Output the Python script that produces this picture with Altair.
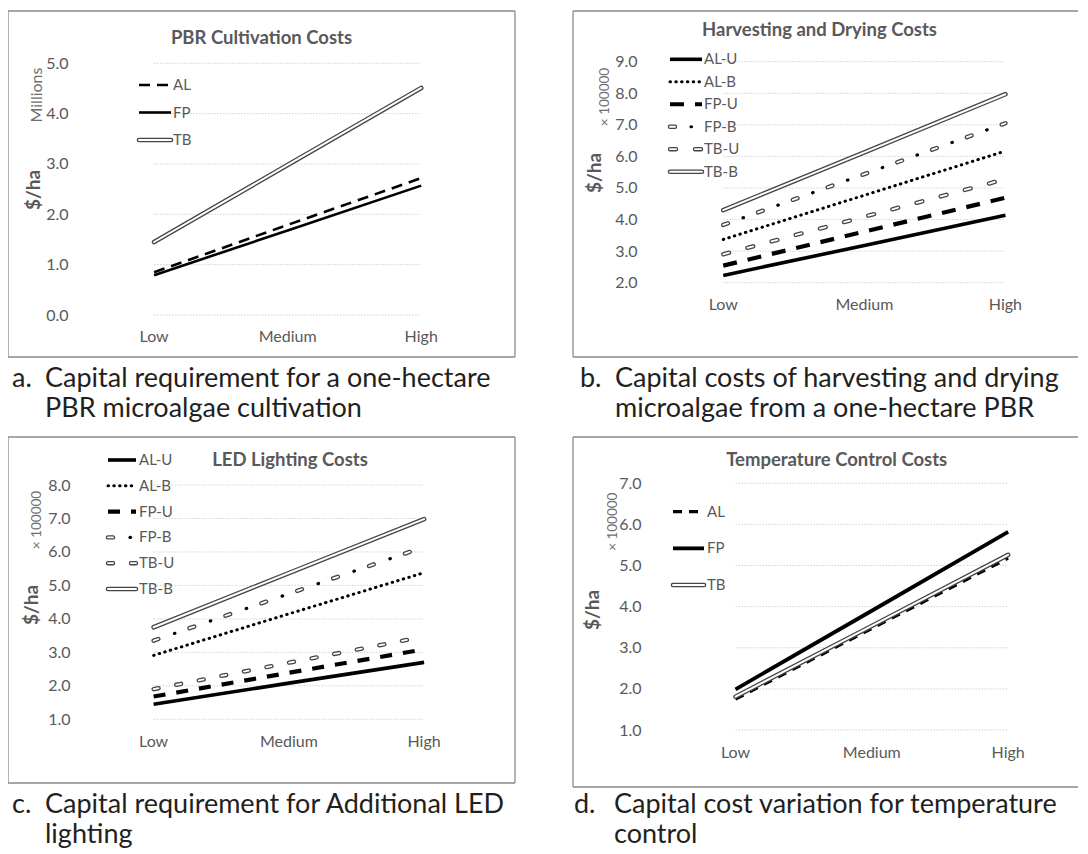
import altair as alt
import pandas as pd

# ---------------- data ----------------
levels = ["Low", "Medium", "High"]

a_title = "PBR Cultivation Costs"
a_series = ["AL", "FP", "TB"]
a_AL = [0.85, 1.79, 2.72]
a_FP = [0.79, 1.68, 2.57]
a_TB = [1.45, 2.98, 4.51]
a_ticks = [0, 1, 2, 3, 4, 5]
a_unit = "Millions"

b_title = "Harvesting and Drying Costs"
b_series = ["AL-U", "AL-B", "FP-U", "FP-B", "TB-U", "TB-B"]
b_AL_U = [2.23, 3.18, 4.14]
b_AL_B = [3.37, 4.77, 6.17]
b_FP_U = [2.54, 3.62, 4.69]
b_FP_B = [3.83, 5.44, 7.05]
b_TB_U = [2.90, 4.09, 5.28]
b_TB_B = [4.30, 6.13, 7.97]
b_ticks = [2, 3, 4, 5, 6, 7, 8, 9]
b_unit = "× 100000"

c_title = "LED Lighting Costs"
c_series = ["AL-U", "AL-B", "FP-U", "FP-B", "TB-U", "TB-B"]
c_AL_U = [1.45, 2.08, 2.70]
c_AL_B = [2.91, 4.15, 5.38]
c_FP_U = [1.68, 2.39, 3.09]
c_FP_B = [3.35, 4.75, 6.15]
c_TB_U = [1.90, 2.69, 3.47]
c_TB_B = [3.75, 5.37, 6.98]
c_ticks = [1, 2, 3, 4, 5, 6, 7, 8]
c_unit = "× 100000"

d_title = "Temperature Control Costs"
d_series = ["AL", "FP", "TB"]
d_AL = [1.75, 3.47, 5.18]
d_FP = [1.99, 3.90, 5.82]
d_TB = [1.81, 3.53, 5.26]
d_ticks = [1, 2, 3, 4, 5, 6, 7]
d_unit = "× 100000"

y_label = "$/ha"

cap_a_tag = "a."
cap_a = ["Capital requirement for a one-hectare", "PBR microalgae cultivation"]
cap_b_tag = "b."
cap_b = ["Capital costs of harvesting and drying", "microalgae from a one-hectare PBR"]
cap_c_tag = "c."
cap_c = ["Capital requirement for Additional LED", "lighting"]
cap_d_tag = "d."
cap_d = ["Capital cost variation for temperature", "control"]

# ---------------- styles ----------------
FONT = "Lato"
GREY = "#595959"
UNIT_GREY = "#6e6e6e"
INK = "#000000"
RIM = "#454545"
BOX = "#8a8a8a"
CAP = "#231f20"
AXIS_FS = 16


def solid(w):
    return [dict(color=INK, strokeWidth=w)]


def dashed(w, pat):
    return [dict(color=INK, strokeWidth=w, strokeDash=pat)]


def dotted(w, pat):
    return [dict(color=INK, strokeWidth=w, strokeDash=pat, strokeCap="round")]


def double(wo=4.6, wi=2.0):
    return [dict(color=RIM, strokeWidth=wo, strokeCap="round"),
            dict(color="#ffffff", strokeWidth=wi, strokeCap="round")]


def double_dash(pat, wo=4.4, wi=1.8):
    return [dict(color=RIM, strokeWidth=wo, strokeDash=pat, strokeCap="round"),
            dict(color="#ffffff", strokeWidth=wi, strokeDash=pat, strokeCap="round")]


def double_dashdot(dash, period, dotpos):
    return [dict(color=RIM, strokeWidth=4.4, strokeDash=[dash, period - dash], strokeCap="round"),
            dict(color="#ffffff", strokeWidth=1.8, strokeDash=[dash, period - dash], strokeCap="round"),
            dict(color=INK, strokeWidth=3.2, strokeDash=[0.5, period - 0.5],
                 strokeDashOffset=period - dotpos, strokeCap="round")]


one = pd.DataFrame({"k": [0]})


def txt(x, y, s, size, weight="normal", color=GREY, angle=None, align="center",
        baseline="middle", lineHeight=None):
    kw = dict(font=FONT, fontSize=size, fontWeight=weight, color=color, align=align,
              baseline=baseline)
    if angle is not None:
        kw["angle"] = angle
    if lineHeight is not None:
        kw["lineHeight"] = lineHeight
    return alt.Chart(one).mark_text(**kw).encode(x=alt.value(x), y=alt.value(y),
                                                  text=alt.value(s))


def frame(W, H, right):
    parts = [
        alt.Chart(one).mark_rule(color=BOX, strokeWidth=1.3).encode(
            x=alt.value(0), x2=alt.value(W), y=alt.value(0)),
        alt.Chart(one).mark_rule(color=BOX, strokeWidth=1.3).encode(
            x=alt.value(0), x2=alt.value(W), y=alt.value(H)),
        alt.Chart(one).mark_rule(color=BOX, strokeWidth=1.3).encode(
            x=alt.value(0), y=alt.value(0), y2=alt.value(H)),
    ]
    if right:
        parts.append(alt.Chart(one).mark_rule(color=BOX, strokeWidth=1.3).encode(
            x=alt.value(W), y=alt.value(0), y2=alt.value(H)))
    return parts


def panel(cfg):
    W, H = cfg["W"], cfg["H"]
    rows = []
    for s, vals in zip(cfg["series"], cfg["values"]):
        for i, (lv, v) in enumerate(zip(levels, vals)):
            rows.append({"series": s, "level": lv, "idx": i, "value": v})
    df = pd.DataFrame(rows)

    xscale = alt.Scale(type="point", domain=levels, range=cfg["xr"])
    yscale = alt.Scale(domain=cfg["ydom"], range=cfg["yr"], nice=False, zero=False)
    yaxis = alt.Axis(title=None, orient="left", offset=cfg["yoff"], values=cfg["ticks"],
                     format=".1f", ticks=False, tickSize=0, domain=False, grid=False,
                     labelPadding=0, labelFont=FONT, labelFontSize=AXIS_FS, labelColor=GREY,
                     labelOverlap=False)

    grid_df = pd.DataFrame({"v": cfg["ticks"], "x1": "Low", "x2": "High"})
    layers = frame(W, H, cfg["right"])
    layers.append(
        alt.Chart(grid_df).mark_rule(color="#d2d2d2", strokeWidth=1, strokeDash=[1.5, 1.5]).encode(
            x=alt.X("x1:N", scale=xscale, axis=None),
            x2="x2:N",
            y=alt.Y("v:Q", scale=yscale, axis=yaxis),
        )
    )
    # category labels along the bottom, placed by the x scale
    lab_df = pd.DataFrame({"level": levels})
    layers.append(
        alt.Chart(lab_df).mark_text(font=FONT, fontSize=AXIS_FS, color=GREY, baseline="middle",
                                    clip=True).encode(
            x=alt.X("level:N", scale=xscale, axis=None),
            y=alt.value(cfg["xlab_y"]),
            text="level:N",
        )
    )

    leg_df = pd.DataFrame({"series": cfg["series"]})
    lscale = alt.Scale(type="point", domain=cfg["series"], range=cfg["leg_y"], padding=0)
    x0, x1 = cfg["leg_x"]
    for s in cfg["order"]:
        for part in cfg["styles"][s]:
            layers.append(
                alt.Chart(df).transform_filter(alt.datum.series == s).mark_line(**part).encode(
                    x=alt.X("level:N", scale=xscale, axis=None),
                    y=alt.Y("value:Q", scale=yscale, axis=None),
                    order=alt.Order("idx:Q"),
                )
            )
            layers.append(
                alt.Chart(leg_df).transform_filter(alt.datum.series == s).mark_rule(**part).encode(
                    x=alt.value(x0), x2=alt.value(x1),
                    y=alt.Y("series:N", scale=lscale, axis=None),
                )
            )
    layers.append(
        alt.Chart(leg_df).mark_text(font=FONT, fontSize=15, color=GREY, align="left",
                                    baseline="middle").encode(
            x=alt.value(cfg["leg_label_x"]),
            y=alt.Y("series:N", scale=lscale, axis=None),
            text="series:N",
        )
    )
    tx, ty = cfg["title_xy"]
    layers.append(txt(tx, ty, cfg["title"], 18.5, weight="bold"))
    ux, uy = cfg["unit_xy"]
    layers.append(txt(ux, uy, cfg["unit"], cfg["unit_size"], color=UNIT_GREY, angle=270))
    hx, hy = cfg["ha_xy"]
    layers.append(txt(hx, hy, y_label, 19, weight="bold", angle=270))
    cx0, cx1 = cfg["cap_x"]
    layers.append(txt(cx0, 376, cfg["cap_tag"], 27, color=CAP, align="left",
                      baseline="alphabetic"))
    layers.append(txt(cx1, 376, cfg["cap"], 27, color=CAP, align="left",
                      baseline="alphabetic", lineHeight=29.5))

    return alt.layer(*layers).resolve_scale(y="independent").properties(width=W, height=H)


style_a = {"AL": dashed(2.6, [11, 7]), "FP": solid(2.6), "TB": double()}
style_b = {
    "AL-U": solid(3.6),
    "AL-B": dotted(3.0, [0.5, 5.3]),
    "FP-U": dashed(4.2, [14, 11]),
    "FP-B": double_dashdot(5, 37, 21),
    "TB-U": double_dash([6, 19]),
    "TB-B": double(),
}
style_c = {
    "AL-U": solid(3.6),
    "AL-B": dotted(3.0, [0.5, 5.3]),
    "FP-U": dashed(4.2, [12, 11]),
    "FP-B": double_dashdot(5, 38, 22),
    "TB-U": double_dash([5, 18]),
    "TB-B": double(),
}
style_d = {"AL": dashed(3.2, [9, 7]), "FP": solid(3.8), "TB": double()}

pa = panel(dict(
    W=507, H=346, right=True, series=a_series, values=[a_AL, a_FP, a_TB], ticks=a_ticks,
    xr=[79.3, 480], ydom=[0, 5], yr=[304, 52.3], xlab_y=326.3, yoff=-60,
    styles=style_a, order=["FP", "AL", "TB"], leg_y=[74, 129], leg_x=[131, 163],
    leg_label_x=165, title=a_title, title_xy=(253.5, 27), unit=a_unit, unit_size=16,
    unit_xy=(28.7, 84), ha_xy=(26, 179), cap_tag=cap_a_tag, cap=cap_a, cap_x=(4, 37),
))
pb = panel(dict(
    W=505, H=346, right=False, series=b_series,
    values=[b_AL_U, b_AL_B, b_FP_U, b_FP_B, b_TB_U, b_TB_B],
    ticks=b_ticks, xr=[79.7, 503], ydom=[2, 9], yr=[271.7, 50.7], xlab_y=294, yoff=-64,
    styles=style_b, order=["AL-U", "FP-U", "TB-U", "AL-B", "FP-B", "TB-B"],
    leg_y=[48.3, 160.7], leg_x=[97, 129], leg_label_x=131, title=b_title,
    title_xy=(246.5, 19), unit=b_unit, unit_size=13.5, unit_xy=(32, 86), ha_xy=(22, 162),
    cap_tag=cap_b_tag, cap=cap_b, cap_x=(7, 42),
))
pc = panel(dict(
    W=507, H=346, right=True, series=c_series,
    values=[c_AL_U, c_AL_B, c_FP_U, c_FP_B, c_TB_U, c_TB_B],
    ticks=c_ticks, xr=[78, 483.7], ydom=[1, 8], yr=[282.3, 48], xlab_y=304.7, yoff=-62,
    styles=style_c, order=["AL-U", "FP-U", "TB-U", "AL-B", "FP-B", "TB-B"],
    leg_y=[23, 152], leg_x=[100, 128], leg_label_x=131, title=c_title,
    title_xy=(282, 23), unit=c_unit, unit_size=13.5, unit_xy=(28.7, 83), ha_xy=(23.7, 168),
    cap_tag=cap_c_tag, cap=cap_c, cap_x=(4, 37),
))
pd_ = panel(dict(
    W=505, H=350, right=False, series=d_series, values=[d_AL, d_FP, d_TB], ticks=d_ticks,
    xr=[94.3, 503.3], ydom=[1, 7], yr=[293, 46.3], xlab_y=316.3, yoff=-68,
    styles=style_d, order=["AL", "TB", "FP"], leg_y=[74.7, 148], leg_x=[100, 131],
    leg_label_x=134, title=d_title, title_xy=(263.7, 23), unit=d_unit, unit_size=13.5,
    unit_xy=(40, 84.7), ha_xy=(20, 173), cap_tag=cap_d_tag, cap=cap_d, cap_x=(1, 41),
))

chart = alt.concat(
    pa, pb, pc, pd_, columns=2, spacing={"row": 80, "column": 58}, bounds="flush"
).configure_view(
    stroke="transparent"
).properties(
    padding={"left": -2, "top": 1, "right": -2, "bottom": 0}
)

chart.save("out.html", embed_options={"renderer": "svg", "actions": False})
